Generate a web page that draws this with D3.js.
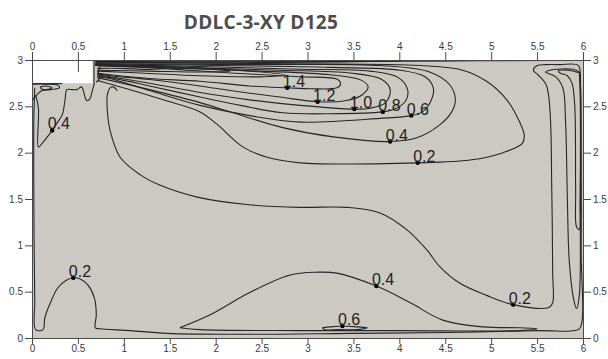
<!DOCTYPE html>
<html>
<head>
<meta charset="utf-8">
<script src="https://cdn.jsdelivr.net/npm/d3@7"></script>
<style>
  body { margin: 0; background: #fff; }
  svg { display: block; }
  .tick text { font-family: "Liberation Sans", Arial, sans-serif; font-size: 10px; fill: #3a3a3a; }
  .tick line, .domain { stroke: #4a4a4a; }
</style>
</head>
<body>
<svg id="chart" width="608" height="359"></svg>
<script>
// chart values (x, y in model units)
const title = "DDLC-3-XY D125";
const xTicks = [0, 0.5, 1, 1.5, 2, 2.5, 3, 3.5, 4, 4.5, 5, 5.5, 6];
const yTicks = [0, 0.5, 1, 1.5, 2, 2.5, 3];

// fluid domain (the step at top-left is not part of it)
const domainOutline = [[0,0],[6,0],[6,3],[0.66,3],[0.66,2.75],[0,2.75]];

// jet contours from the inlet, open at the inlet
const c14 = [[0.69,2.94],[1.39,2.91],[2.16,2.86],[2.92,2.82],[3.33,2.79],[3.36,2.74],[3.32,2.70],[3.03,2.69],[2.78,2.70],[2.37,2.72],[1.83,2.77],[1.28,2.80],[0.85,2.84],[0.71,2.86]];
const c12 = [[0.69,2.94],[1.61,2.91],[2.48,2.88],[3.25,2.84],[3.59,2.78],[3.66,2.71],[3.59,2.62],[3.41,2.56],[3.11,2.55],[2.70,2.60],[2.16,2.67],[1.83,2.72],[1.28,2.79],[0.85,2.83],[0.71,2.85]];
const c10 = [[0.69,2.95],[1.61,2.92],[2.70,2.89],[3.46,2.86],[3.81,2.79],[3.90,2.68],[3.85,2.54],[3.68,2.48],[3.51,2.47],[2.92,2.51],[2.37,2.57],[1.83,2.65],[1.28,2.75],[0.85,2.82],[0.71,2.84]];
const c08 = [[0.69,2.95],[1.83,2.93],[2.92,2.90],[3.68,2.88],[3.99,2.81],[4.09,2.68],[4.07,2.56],[3.95,2.47],[3.82,2.44],[3.25,2.42],[2.73,2.43],[2.27,2.51],[1.83,2.60],[1.28,2.72],[0.85,2.81],[0.71,2.83]];
const c06 = [[0.69,2.96],[2.05,2.94],[3.25,2.92],[4.01,2.89],[4.28,2.82],[4.37,2.70],[4.34,2.55],[4.25,2.44],[4.13,2.40],[3.79,2.37],[2.92,2.33],[2.37,2.40],[1.83,2.51],[1.28,2.67],[0.85,2.80],[0.71,2.82]];
const c04 = [[0.69,2.96],[2.37,2.95],[3.79,2.94],[4.33,2.87],[4.55,2.73],[4.61,2.57],[4.57,2.44],[4.44,2.30],[4.19,2.16],[3.90,2.12],[3.28,2.17],[2.73,2.27],[2.19,2.43],[1.83,2.54],[1.28,2.68],[0.85,2.78],[0.71,2.81]];
const c02 = [[0.69,2.97],[2.92,2.96],[4.23,2.94],[4.69,2.89],[4.95,2.77],[5.17,2.57],[5.31,2.33],[5.36,2.19],[5.34,2.10],[5.13,2.00],[4.77,1.92],[4.20,1.89],[2.92,1.89],[2.56,1.95],[2.30,2.06],[2.01,2.31],[1.83,2.44],[1.43,2.57],[1.07,2.68],[0.85,2.74],[0.71,2.78]];
const c16 = [[0.69,2.94],[1.61,2.92],[2.37,2.88],[2.76,2.84],[2.54,2.82],[1.83,2.83],[1.18,2.86],[0.71,2.88]];
const c20 = [[0.69,2.94],[1.28,2.93],[1.94,2.90],[2.16,2.88],[1.88,2.87],[1.28,2.88],[0.71,2.89]];
const c25 = [[0.69,2.95],[1.07,2.94],[1.45,2.92],[1.34,2.90],[0.96,2.91],[0.71,2.91]];

// shear layer along the ceiling
const ceil1 = [[0.69,2.99],[2.5,2.99],[4.5,2.99],[5.6,2.995]];
const ceil2 = [[0.69,2.985],[2.0,2.98],[3.5,2.985],[4.8,2.995]];
const ceil3 = [[0.69,2.975],[1.8,2.97],[3.0,2.975],[4.0,2.99]];

// large 0.2 contour round the room
const big02 = [[0.03,2.70],[0.02,2.35],[0.02,1.49],[0.03,0.41],[0.04,0.09],[0.12,0.09],[0.14,0.22],[0.20,0.38],[0.28,0.54],[0.37,0.62],[0.45,0.65],[0.52,0.64],[0.61,0.57],[0.68,0.43],[0.70,0.25],[0.69,0.11],[0.74,0.10],[1.07,0.08],[1.47,0.05],[2.37,0.04],[3.46,0.05],[4.55,0.06],[5.53,0.08],[5.91,0.08],[5.97,0.11],[5.98,0.95],[5.98,2.03],[5.97,2.78],[5.95,2.94],[5.75,2.95],[5.59,2.95],[5.50,2.94],[5.46,2.89],[5.51,2.84],[5.60,2.73],[5.64,2.46],[5.66,1.60],[5.67,0.70],[5.67,0.38],[5.63,0.33],[5.24,0.36],[4.95,0.46],[4.66,0.59],[4.44,0.77],[4.30,0.95],[4.08,1.17],[3.79,1.35],[3.43,1.41],[2.92,1.41],[2.34,1.44],[1.80,1.52],[1.39,1.65],[1.18,1.76],[0.96,1.95],[0.85,2.24],[0.82,2.46],[0.82,2.62],[0.85,2.70],[0.88,2.71],[0.93,2.67]];

// right wall loops
const right04 = [[5.96,2.87],[5.89,2.90],[5.64,2.89],[5.59,2.87],[5.70,2.82],[5.78,2.70],[5.81,2.33],[5.83,1.49],[5.85,0.84],[5.90,0.41],[5.93,0.32],[5.96,0.46],[5.97,1.49],[5.97,2.57],[5.96,2.87]];
const right06 = [[5.97,2.86],[5.83,2.89],[5.73,2.88],[5.75,2.86],[5.83,2.83],[5.88,2.75],[5.91,2.51],[5.92,1.60],[5.93,1.20],[5.96,1.17],[5.97,1.49],[5.975,2.57],[5.97,2.86]];

// left corner under the step
const left04 = [[0.04,2.62],[0.07,2.48],[0.07,2.06],[0.11,2.10],[0.22,2.24],[0.28,2.33],[0.33,2.41],[0.36,2.57],[0.38,2.68],[0.44,2.68],[0.49,2.68],[0.54,2.71],[0.58,2.59],[0.60,2.56],[0.63,2.58],[0.66,2.68],[0.68,2.75]];
const leftA = [[0.01,2.74],[0.14,2.74],[0.28,2.73],[0.30,2.70],[0.20,2.68],[0.11,2.67],[0.04,2.61],[0.01,2.57]];
const leftB = [[0.09,2.71],[0.15,2.72],[0.22,2.70],[0.16,2.68],[0.10,2.69],[0.09,2.71]];
const stepEdge = [[0,2.745],[0.33,2.745]];
const inletA = [[0.675,2.995],[0.675,2.75]];
const inletB = [[0.70,2.98],[0.74,2.94],[0.72,2.87],[0.74,2.81],[0.70,2.76]];

// floor contours
const floor04 = [[1.61,0.11],[1.94,0.25],[2.37,0.49],[2.81,0.68],[3.10,0.71],[3.32,0.70],[3.75,0.56],[4.12,0.38],[4.48,0.19],[4.91,0.12],[5.31,0.11],[5.50,0.10],[5.31,0.08],[4.01,0.08],[2.92,0.08],[1.83,0.09],[1.61,0.11]];
const floor06 = [[3.16,0.11],[3.25,0.12],[3.38,0.13],[3.54,0.12],[3.65,0.11],[3.54,0.09],[3.35,0.09],[3.19,0.09],[3.16,0.11]];

const contours = [c25, c20, c16, c14, c12, c10, c08, c06, c04, c02, ceil1, ceil2, ceil3,
  big02, right04, right06, left04, leftA, leftB, stepEdge, inletA, inletB, floor04, floor06];

// contour labels: text, x, y of the marker dot
const labelText = ["1.4", "1.2", "1.0", "0.8", "0.6", "0.4", "0.2", "0.4", "0.2", "0.4", "0.6", "0.2"];
const labelX = [2.78, 3.11, 3.51, 3.82, 4.13, 3.90, 4.20, 0.22, 0.45, 3.75, 3.38, 5.24];
const labelY = [2.70, 2.55, 2.47, 2.44, 2.40, 2.12, 1.89, 2.24, 0.65, 0.56, 0.13, 0.36];

const svg = d3.select("#chart");

const x = d3.scaleLinear().domain([0, 6]).range([32, 583]);
const y = d3.scaleLinear().domain([0, 3]).range([338, 60]);

svg.append("text")
  .attr("x", 261).attr("y", 29)
  .attr("text-anchor", "middle")
  .style("font-family", "'Open Sans', sans-serif")
  .style("font-weight", 700)
  .style("font-size", "19px")
  .style("letter-spacing", "0.3px")
  .style("fill", "#4d4d4d")
  .text(title);

// inner halves of the ticks, only seen through the step
const fmt = d3.format("");
svg.append("g").attr("transform", `translate(0,${y(3)})`)
  .call(d3.axisTop(x).tickValues(xTicks).tickSize(-12).tickSizeOuter(0).tickFormat(""))
  .call(g => g.select(".domain").remove());
svg.append("g").attr("transform", `translate(${x(0)},0)`)
  .call(d3.axisLeft(y).tickValues(yTicks).tickSize(-12).tickSizeOuter(0).tickFormat(""))
  .call(g => g.select(".domain").remove());

// the grey fluid region
svg.append("path")
  .datum(domainOutline)
  .attr("d", d3.line().x(d => x(d[0])).y(d => y(d[1])))
  .attr("fill", "#cbc9c1");

const line = d3.line()
  .x(d => x(d[0]))
  .y(d => y(d[1]))
  .curve(d3.curveCatmullRom.alpha(0.5));

svg.append("g")
  .selectAll("path")
  .data(contours)
  .enter().append("path")
  .attr("d", line)
  .attr("fill", "none")
  .attr("stroke", "#262626")
  .attr("stroke-width", 1.1)
  .attr("stroke-linejoin", "round");

// axes
svg.append("g").attr("transform", `translate(0,${y(3)})`)
  .call(d3.axisTop(x).tickValues(xTicks).tickSize(8).tickSizeOuter(0).tickPadding(2).tickFormat(fmt));
svg.append("g").attr("transform", `translate(0,${y(0)})`)
  .call(d3.axisBottom(x).tickValues(xTicks).tickSize(6).tickSizeOuter(0).tickPadding(1).tickFormat(fmt));
svg.append("g").attr("transform", `translate(${x(0)},0)`)
  .call(d3.axisLeft(y).tickValues(yTicks).tickSize(7).tickSizeOuter(0).tickPadding(2).tickFormat(fmt));
svg.append("g").attr("transform", `translate(${x(6)},0)`)
  .call(d3.axisRight(y).tickValues(yTicks).tickSize(8).tickSizeOuter(0).tickPadding(2).tickFormat(fmt));

// contour labels
const labels = svg.append("g")
  .selectAll("g")
  .data(labelText)
  .enter().append("g")
  .attr("transform", (d, i) => `translate(${x(labelX[i])},${y(labelY[i])})`);

labels.append("circle")
  .attr("r", 2.2)
  .attr("fill", "#000");

labels.append("text")
  .attr("x", -4.5)
  .attr("y", -1)
  .style("font-family", "'Liberation Sans', Arial, sans-serif")
  .style("font-size", "16px")
  .style("fill", "#222")
  .text(d => d);
</script>
</body>
</html>
